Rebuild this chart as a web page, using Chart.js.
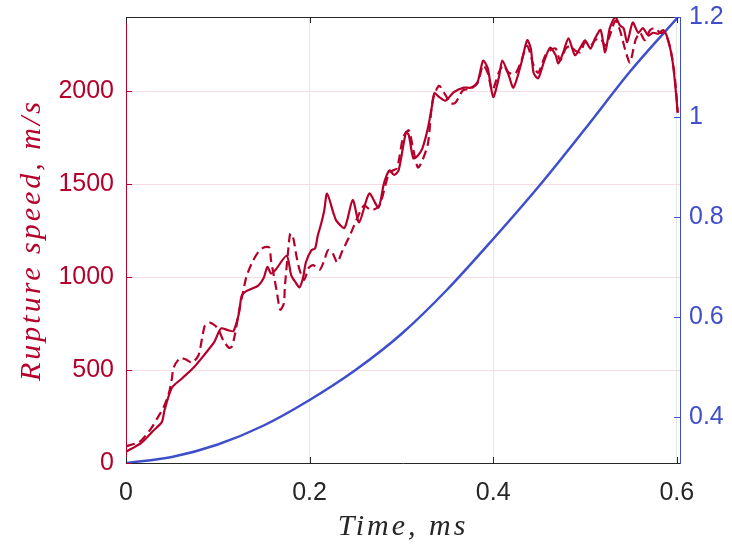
<!DOCTYPE html>
<html>
<head>
<meta charset="utf-8">
<script src="https://cdn.jsdelivr.net/npm/chart.js@4.4.0/dist/chart.umd.min.js"></script>
<style>
  html, body { margin: 0; padding: 0; background: #fff; }
  #wrap { width: 732px; height: 546px; position: relative; }
</style>
</head>
<body>
<div id="wrap"><canvas id="chart"></canvas></div>
<script>
// --- DATA (time in ms) ---
const solidTime = [0, 0.017, 0.030, 0.039, 0.042, 0.050, 0.061, 0.074, 0.085, 0.096, 0.101, 0.104, 0.111, 0.117,
  0.123, 0.126, 0.131, 0.144, 0.150, 0.154, 0.158, 0.163, 0.175, 0.180, 0.185, 0.189, 0.193, 0.196, 0.202,
  0.206, 0.209, 0.213, 0.216, 0.219, 0.226, 0.229, 0.238, 0.247, 0.254, 0.265, 0.275, 0.281, 0.287, 0.292,
  0.297, 0.305, 0.308, 0.313, 0.318, 0.323, 0.329, 0.334, 0.336, 0.341, 0.348, 0.357, 0.368, 0.376, 0.383,
  0.389, 0.394, 0.400, 0.406, 0.410, 0.417, 0.422, 0.430, 0.437, 0.441, 0.444, 0.449, 0.455, 0.462, 0.468,
  0.471, 0.476, 0.482, 0.489, 0.495, 0.500, 0.506, 0.511, 0.517, 0.522, 0.527, 0.533, 0.538, 0.542, 0.546,
  0.552, 0.558, 0.563, 0.569, 0.574, 0.580, 0.585, 0.590, 0.595, 0.598, 0.601];
const solidSpeed = [60, 110, 175, 220, 285, 405, 455, 515, 580, 650, 705, 725, 715, 710,
  805, 900, 925, 955, 995, 1055, 1020, 1040, 1115, 1010, 970, 945, 1000, 1080, 1145,
  1155, 1225, 1295, 1360, 1450, 1345, 1305, 1265, 1415, 1295, 1450, 1375, 1505, 1575, 1550,
  1575, 1780, 1765, 1640, 1655, 1695, 1805, 1940, 1990, 1970, 1950, 1995, 2020, 2020, 2050,
  2165, 2125, 1970, 2070, 2165, 2085, 2020, 2140, 2275, 2230, 2100, 2070, 2155, 2235, 2195,
  2150, 2205, 2285, 2195, 2235, 2275, 2230, 2285, 2330, 2210, 2340, 2400, 2355, 2340, 2265,
  2370, 2315, 2340, 2300, 2315, 2310, 2330, 2285, 2175, 2050, 1885];

const dashTime = [0, 0.015, 0.028, 0.034, 0.041, 0.047, 0.050, 0.052, 0.059, 0.066, 0.072, 0.079, 0.083, 0.086,
  0.091, 0.097, 0.101, 0.106, 0.112, 0.115, 0.118, 0.124, 0.128, 0.131, 0.137, 0.144, 0.150, 0.156, 0.158,
  0.164, 0.168, 0.172, 0.173, 0.177, 0.179, 0.182, 0.186, 0.189, 0.194, 0.199, 0.204, 0.211, 0.216, 0.220,
  0.225, 0.230, 0.236, 0.243, 0.259, 0.267, 0.276, 0.287, 0.295, 0.302, 0.308, 0.313, 0.318, 0.323, 0.329,
  0.334, 0.341, 0.348, 0.354, 0.359, 0.367, 0.376, 0.383, 0.389, 0.394, 0.399, 0.406, 0.411, 0.417, 0.424,
  0.430, 0.437, 0.444, 0.449, 0.457, 0.462, 0.468, 0.473, 0.479, 0.484, 0.489, 0.495, 0.500, 0.506, 0.511,
  0.517, 0.522, 0.527, 0.533, 0.538, 0.544, 0.549, 0.555, 0.560, 0.565, 0.571, 0.576, 0.582, 0.587, 0.593,
  0.597, 0.600, 0.601];
const dashSpeed = [90, 115, 190, 240, 300, 380, 455, 515, 565, 555, 540, 580, 675, 740,
  755, 740, 715, 660, 620, 625, 675, 840, 930, 1000, 1075, 1135, 1160, 1160, 1090,
  930, 825, 860, 945, 1160, 1235, 1215, 1105, 1040, 985, 1050, 1065, 1040, 1090, 1145,
  1130, 1080, 1145, 1215, 1385, 1360, 1385, 1565, 1585, 1755, 1790, 1685, 1590, 1630, 1720,
  1950, 2030, 1980, 1935, 1940, 2005, 2015, 2045, 2140, 2100, 2005, 2100, 2140, 2100, 2095,
  2155, 2245, 2140, 2100, 2195, 2220, 2230, 2165, 2230, 2245, 2220, 2210, 2265, 2245, 2275,
  2285, 2245, 2300, 2380, 2330, 2220, 2155, 2275, 2315, 2275, 2330, 2340, 2315, 2315, 2230,
  2110, 1960, 1885];

const posTime = [0, 0.05, 0.10, 0.15, 0.20, 0.25, 0.30, 0.35, 0.40, 0.45, 0.50, 0.55, 0.6015];
const posValue = [0.308, 0.320, 0.345, 0.383, 0.434, 0.494, 0.566, 0.655, 0.756, 0.862, 0.976, 1.093, 1.200];

const timeTicks = [0, 0.2, 0.4, 0.6];
const speedTicks = [0, 500, 1000, 1500, 2000];
const posTicks = [0.4, 0.6, 0.8, 1, 1.2];

const RED = "#b5002b";
const BLUE = "#3f4fcb";
const DARK = "#262626";

function toPoints(xs, ys) {
  return xs.map((x, i) => ({ x: x, y: ys[i] }));
}

function fixTicks(values) {
  return (scale) => {
    scale.ticks = values.map((v) => ({ value: v }));
  };
}

// titles are drawn in the grid layer (before datasets), labels later with z:1,
// so the wide LaTeX-like spacing only hits the axis titles
const titleSpacing = {
  id: "titleSpacing",
  beforeDraw(chart) {
    chart.ctx.letterSpacing = "3px";
  },
  beforeDatasetsDraw(chart) {
    chart.ctx.letterSpacing = "0px";
  },
};

// MATLAB style frame: top edge and inward tick marks
const frame = {
  id: "frame",
  afterDatasetsDraw(chart) {
    const { ctx, chartArea: a, scales } = chart;
    const len = 6;
    ctx.save();
    ctx.lineWidth = 1;

    ctx.strokeStyle = DARK;
    ctx.beginPath();
    ctx.moveTo(a.left, a.top + 0.5);
    ctx.lineTo(a.right, a.top + 0.5);
    timeTicks.forEach((v) => {
      const px = Math.round(scales.x.getPixelForValue(v)) + 0.5;
      ctx.moveTo(px, a.bottom);
      ctx.lineTo(px, a.bottom - len);
      ctx.moveTo(px, a.top);
      ctx.lineTo(px, a.top + len);
    });
    ctx.stroke();

    ctx.strokeStyle = RED;
    ctx.beginPath();
    speedTicks.forEach((v) => {
      const py = Math.round(scales.y.getPixelForValue(v)) + 0.5;
      ctx.moveTo(a.left, py);
      ctx.lineTo(a.left + len, py);
    });
    ctx.stroke();

    ctx.strokeStyle = BLUE;
    ctx.beginPath();
    posTicks.forEach((v) => {
      const py = Math.round(scales.y2.getPixelForValue(v)) + 0.5;
      ctx.moveTo(a.right, py);
      ctx.lineTo(a.right - len, py);
    });
    ctx.stroke();
    ctx.restore();
  },
};

const tickFont = { family: "'Liberation Sans', Arial, sans-serif", size: 25 };
const titleFont = { family: "'Liberation Serif', 'Times New Roman', serif", size: 30, style: "italic" };
const plainLabel = (v) => String(v);

new Chart(document.getElementById("chart"), {
  type: "line",
  data: {
    datasets: [
      {
        data: toPoints(solidTime, solidSpeed),
        yAxisID: "y",
        borderColor: RED,
        borderWidth: 2.2,
        pointRadius: 0,
        tension: 0.25,
      },
      {
        data: toPoints(dashTime, dashSpeed),
        yAxisID: "y",
        borderColor: RED,
        borderWidth: 2.2,
        borderDash: [9, 5],
        pointRadius: 0,
        tension: 0.25,
      },
      {
        data: toPoints(posTime, posValue),
        yAxisID: "y2",
        borderColor: BLUE,
        borderWidth: 2.5,
        pointRadius: 0,
        cubicInterpolationMode: "monotone",
      },
    ],
  },
  options: {
    responsive: true,
    maintainAspectRatio: false,
    animation: false,
    devicePixelRatio: 1,
    layout: { padding: { top: 17, left: 0, right: 0, bottom: 0 } },
    plugins: { legend: { display: false }, tooltip: { enabled: false } },
    scales: {
      x: {
        type: "linear",
        min: 0,
        max: 0.6035,
        afterBuildTicks: fixTicks(timeTicks),
        afterFit: (s) => {
          s.height = 83;
          s.paddingLeft = 0;
          s.paddingRight = 0;
        },
        grid: {
          color: (c) => (c.tick && c.tick.value === 0 ? "rgba(0,0,0,0)" : "#e6e6e6"),
          lineWidth: 1,
          drawTicks: false,
        },
        border: { color: DARK, width: 1 },
        ticks: { color: DARK, font: tickFont, padding: 15, maxRotation: 0, z: 1, callback: plainLabel },
        title: { display: true, text: "Time, ms", color: DARK, font: titleFont, padding: { bottom: 1, top: 0 } },
      },
      y: {
        type: "linear",
        position: "left",
        min: 0,
        max: 2400,
        afterBuildTicks: fixTicks(speedTicks),
        afterFit: (s) => {
          s.width = 126;
          s.paddingTop = 0;
          s.paddingBottom = 0;
        },
        grid: {
          color: (c) => (c.tick && c.tick.value === 0 ? "rgba(0,0,0,0)" : "#f6dce2"),
          lineWidth: 1,
          drawTicks: false,
        },
        border: { color: RED, width: 1 },
        ticks: { color: RED, font: tickFont, padding: 12, z: 1, callback: plainLabel },
        title: { display: true, text: "Rupture speed, m/s", color: RED, font: titleFont, padding: { top: 14, bottom: 0 } },
      },
      y2: {
        type: "linear",
        position: "right",
        min: 0.308,
        max: 1.2,
        afterBuildTicks: fixTicks(posTicks),
        afterFit: (s) => {
          s.width = 52;
          s.paddingTop = 0;
          s.paddingBottom = 0;
        },
        grid: { display: false, drawTicks: false },
        border: { color: BLUE, width: 1 },
        ticks: { color: BLUE, font: tickFont, padding: 9, z: 1, callback: plainLabel },
      },
    },
  },
  plugins: [titleSpacing, frame],
});
</script>
</body>
</html>
